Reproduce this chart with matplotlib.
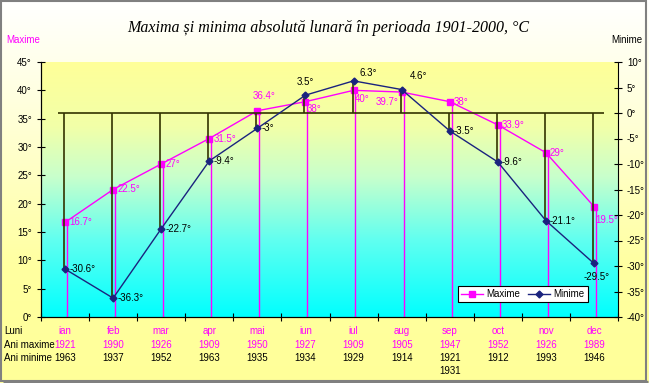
import numpy as np
import matplotlib.pyplot as plt
from matplotlib.colors import LinearSegmentedColormap
from matplotlib.lines import Line2D
from matplotlib.patches import Rectangle
from matplotlib.transforms import blended_transform_factory

plt.rcParams['font.family'] = ['Liberation Sans', 'DejaVu Sans']

# data
months = ["ian", "feb", "mar", "apr", "mai", "iun", "iul", "aug", "sep", "oct", "nov", "dec"]
max_vals = [16.7, 22.5, 27, 31.5, 36.4, 38, 40, 39.7, 38, 33.9, 29, 19.5]
min_vals = [-30.6, -36.3, -22.7, -9.4, -3, 3.5, 6.3, 4.6, -3.5, -9.6, -21.1, -29.5]
max_years = ["1921", "1990", "1926", "1909", "1950", "1927", "1909", "1905", "1947", "1952", "1926", "1989"]
min_years = ["1963", "1937", "1952", "1963", "1935", "1934", "1929", "1914", "1921\n1931", "1912", "1993", "1946"]
left_ticks = list(range(0, 50, 5))
right_ticks = list(range(-40, 15, 5))

MAG = "#FF00FF"
NAVY = "#1A237E"
DARK = "#333300"

# label offsets in points (dx, dy, ha, va)
max_off = [(3, 0, "left", "center")] * 4 + [(5, 7, "center", "bottom"), (1, -5, "left", "center"),
           (1, -6, "left", "center"), (-2, -7, "right", "center")] + [(3, 0, "left", "center")] * 3 + [(1, -10, "left", "center")]
min_off = [(3, 0, "left", "center")] * 5 + [(0, 6, "center", "bottom"), (4, 2, "left", "bottom"),
           (6, 6, "left", "bottom")] + [(3, 0, "left", "center")] * 3 + [(2, -6, "center", "top")]

W, H = 649, 383
fig = plt.figure(figsize=(W / 100, H / 100), dpi=100)

# figure background: white at top to pale yellow
bg = fig.add_axes([0, 0, 1, 1], zorder=-10)
bg_cmap = LinearSegmentedColormap.from_list("bg", [(0, "#FFFF99"), (0.3, "#FFFFA0"), (0.75, "#FFFFE0"), (1, "#FFFFFF")])
bg.imshow(np.linspace(0, 1, 256).reshape(-1, 1), cmap=bg_cmap, aspect="auto", extent=[0, 1, 0, 1], origin="lower")
bg.axis("off")

ax = fig.add_axes([41 / W, 1 - 317 / H, (618 - 41) / W, (317 - 62) / H])
x = np.arange(len(months))

# plot area gradient: cyan bottom to yellow top
pa_cmap = LinearSegmentedColormap.from_list("pa", [(0, "#00FFFF"), (0.3, "#60FFF0"), (0.55, "#C8FFCC"),
                                                    (0.75, "#F2FFA8"), (1, "#FFFF99")])
ax.imshow(np.linspace(0, 1, 256).reshape(-1, 1), cmap=pa_cmap, aspect="auto",
          extent=[-0.5, 11.5, 0, 45], origin="lower", zorder=0)

ax2 = ax.twinx()

# drop lines
ax.vlines(x + 0.04, 0, max_vals, color=MAG, lw=1, zorder=2)
ax2.vlines(x - 0.02, min_vals, 0, color=DARK, lw=1.2, zorder=2)
ax2.hlines(0, -0.15, 11.2, color=DARK, lw=1.2, zorder=2)

ax.plot(x, max_vals, color=MAG, lw=1, marker="s", ms=4, zorder=3)
ax2.plot(x, min_vals, color=NAVY, lw=1, marker="D", ms=3.5, zorder=3)

for i, v in enumerate(max_vals):
    dx, dy, ha, va = max_off[i]
    ax.annotate(f"{v:g}°", (x[i], v), xytext=(dx, dy), textcoords="offset points",
                ha=ha, va=va, fontsize=7, color=MAG, zorder=5)
for i, v in enumerate(min_vals):
    dx, dy, ha, va = min_off[i]
    ax2.annotate(f"{v:g}°", (x[i], v), xytext=(dx, dy), textcoords="offset points",
                 ha=ha, va=va, fontsize=7, color="black", zorder=5)

ax.set_xlim(-0.5, 11.5)
ax.set_ylim(0, 45)
ax2.set_ylim(-40, 10)
ax.set_xticks(np.arange(-0.5, 12, 1))
ax.set_xticklabels([])
ax.set_yticks(left_ticks)
ax.set_yticklabels([f"{v}°" for v in left_ticks])
ax2.set_yticks(right_ticks)
ax2.set_yticklabels([f"{v}°" for v in right_ticks])
ax.tick_params(direction="inout", length=6, labelsize=7, width=0.8)
ax2.tick_params(direction="inout", length=6, labelsize=7, width=0.8)
for a in (ax, ax2):
    a.spines["top"].set_visible(False)
ax.spines["right"].set_visible(False)

# titles and axis headers
fig.text(328 / W, 1 - 28 / H, "Maxima și minima absolută lunară în perioada 1901-2000, °C",
         family=["Liberation Serif", "DejaVu Serif"], style="italic", fontsize=11.5, ha="center", va="center")
fig.text(6 / W, 1 - 40 / H, "Maxime", color=MAG, fontsize=7, ha="left", va="center")
fig.text(642 / W, 1 - 40 / H, "Minime", color="black", fontsize=7, ha="right", va="center")

# table under the axis
tr = blended_transform_factory(ax.transData, fig.transFigure)
rows_y = [331, 345, 358]
for lab, py in zip(["Luni", "Ani maxime", "Ani minime"], rows_y):
    fig.text(4 / W, 1 - py / H, lab, fontsize=7, ha="left", va="center")
for i in range(len(months)):
    ax.text(x[i], 1 - rows_y[0] / H, months[i], transform=tr, color=MAG, fontsize=7, ha="center", va="center")
    ax.text(x[i], 1 - rows_y[1] / H, max_years[i], transform=tr, color=MAG, fontsize=7, ha="center", va="center")
    ax.text(x[i], 1 - (rows_y[2] - 5) / H, min_years[i], transform=tr, color="black", fontsize=7, ha="center",
            va="top", linespacing=1.4)

handles = [Line2D([], [], color=MAG, marker="s", ms=4, lw=1), Line2D([], [], color=NAVY, marker="D", ms=3.5, lw=1)]
leg = fig.legend(handles, ["Maxime", "Minime"], loc="center", bbox_to_anchor=(523 / W, 1 - 294 / H), ncol=2,
                 fontsize=7, fancybox=False, edgecolor="black", framealpha=1, handlelength=2.2,
                 columnspacing=0.8, borderpad=0.3, handletextpad=0.4)
leg.get_frame().set_linewidth(0.8)

# outer frame
fig.patches.append(Rectangle((1 / W, 2 / H), (W - 4) / W, (H - 3) / H, transform=fig.transFigure,
                             fill=False, edgecolor="#808080", lw=1.5))
fig.patches.append(Rectangle((3 / W, 1 / H), (W - 4) / W, 0, transform=fig.transFigure,
                             fill=False, edgecolor="#808080", lw=2.5))

fig.savefig("out.png", dpi=100)
